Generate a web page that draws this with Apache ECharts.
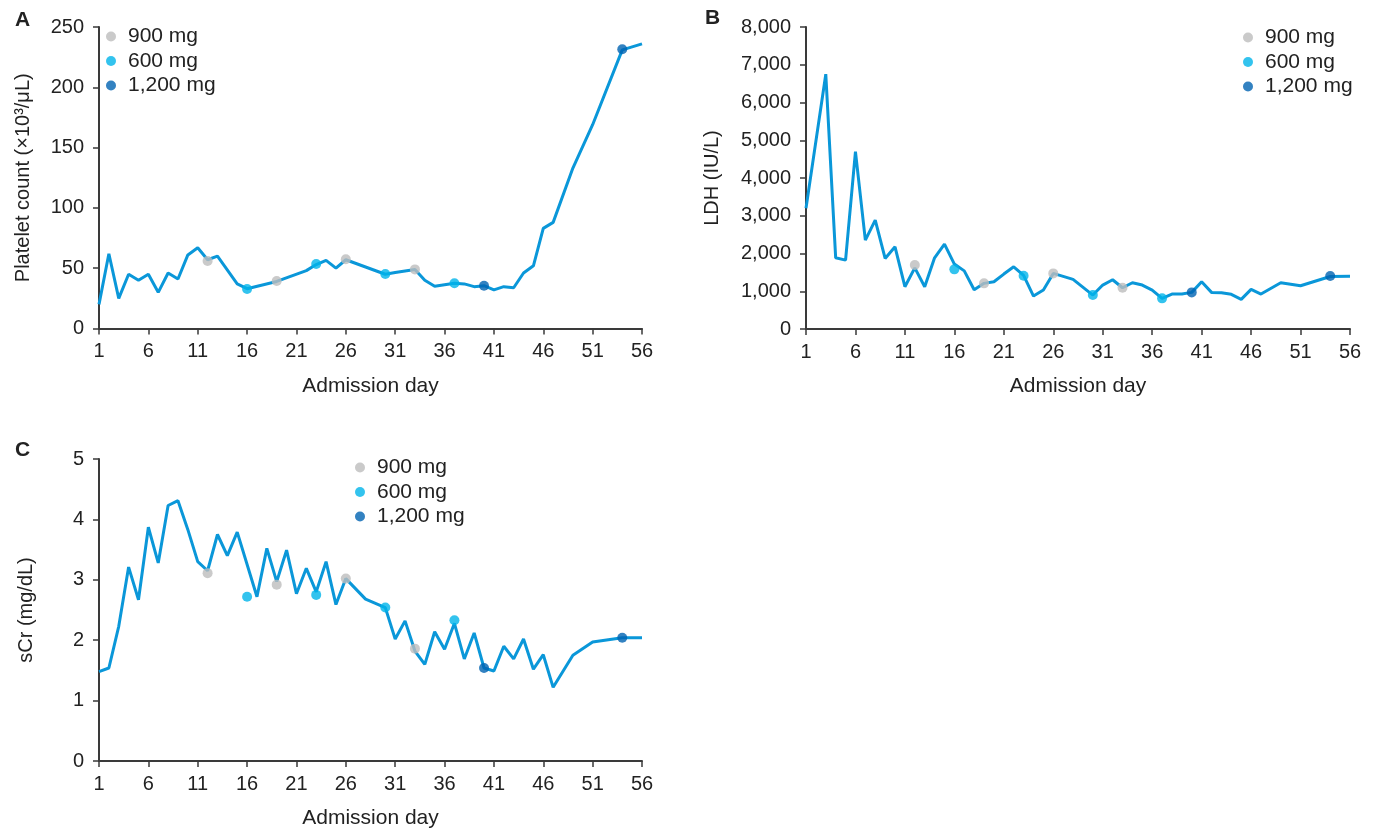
<!DOCTYPE html>
<html lang="en">
<head>
  <meta charset="UTF-8">
  <title>Platelet / LDH / sCr</title>
  <script src="https://cdn.jsdelivr.net/npm/echarts@6/dist/echarts.min.js"></script>
  <style>
    html, body { margin: 0; padding: 0; background: #fff; }
  </style>
</head>
<body>
<div id="main" style="width: 1377px;height:828px;"></div>
<script>
  var myChart = echarts.init(document.getElementById('main'));

  // admission days 1..56
  var days = [];
  for (var d = 1; d <= 56; d++) days.push(String(d));

  // A: platelet count
  var pltDays = [1, 2, 3, 4, 5, 6, 7, 8, 9, 10, 11, 12, 13, 15, 16, 19, 22, 23, 24, 25, 26, 30, 31, 33, 34, 35, 37, 38, 39, 40, 41, 42, 43, 44, 45, 46, 47, 49, 51, 54, 56];
  var pltVals = [20, 62, 25, 45, 40, 45, 30, 46, 41, 61, 67, 57, 60, 37, 33, 39, 48, 53, 56.5, 50, 57, 45, 46.5, 49, 40, 35, 37.5, 37, 34.7, 35.5, 32, 34.7, 33.8, 46, 52, 83, 88, 133, 169, 231, 236];

  // B: LDH
  var ldhDays = [1, 3, 4, 5, 6, 7, 8, 9, 10, 11, 12, 13, 14, 15, 16, 17, 18, 19, 20, 21, 22, 23, 24, 25, 26, 28, 30, 31, 32, 33, 34, 35, 36, 37, 38, 39, 40, 41, 42, 43, 44, 45, 46, 47, 49, 51, 54, 56];
  var ldhVals = [3200, 6750, 1886, 1825, 4700, 2354, 2884, 1870, 2178, 1120, 1620, 1120, 1886, 2250, 1720, 1540, 1040, 1209, 1252, 1455, 1648, 1420, 873, 1032, 1473, 1315, 899, 1164, 1305, 1093, 1225, 1164, 1032, 812, 926, 926, 970, 1252, 970, 960, 918, 786, 1050, 926, 1225, 1146, 1390, 1400];

  // C: serum creatinine
  var scrDays = [1, 2, 3, 4, 5, 6, 7, 8, 9, 10, 11, 12, 13, 14, 15, 17, 18, 19, 20, 21, 22, 23, 24, 25, 26, 28, 30, 31, 32, 33, 34, 35, 36, 37, 38, 39, 40, 41, 42, 43, 44, 45, 46, 47, 49, 51, 54, 56];
  var scrVals = [1.48, 1.54, 2.23, 3.21, 2.67, 3.87, 3.28, 4.23, 4.31, 3.83, 3.30, 3.15, 3.75, 3.40, 3.79, 2.72, 3.52, 2.97, 3.49, 2.77, 3.19, 2.80, 3.30, 2.59, 3.02, 2.68, 2.54, 2.02, 2.32, 1.82, 1.60, 2.14, 1.85, 2.28, 1.69, 2.12, 1.54, 1.49, 1.90, 1.69, 2.02, 1.52, 1.76, 1.22, 1.75, 1.97, 2.04, 2.04];

  // dosing days
  var dose900Days = [12, 19, 26, 33];
  var dose600Days = [16, 23, 30, 37];
  var dose1200Days = [40, 54];

  var plt900 = [56, 39.4, 57.4, 49];
  var plt600 = [32.8, 53.5, 45.2, 37.5];
  var plt1200 = [35.5, 231.5];

  var ldh900 = [1693, 1209, 1473, 1093];
  var ldh600 = [1580, 1410, 899, 812];
  var ldh1200 = [970, 1402];

  var scr900 = [3.11, 2.92, 3.02, 1.86];
  var scr600 = [2.72, 2.75, 2.54, 2.33];
  var scr1200 = [1.54, 2.04];

  var doseNames = ['900 mg', '600 mg', '1,200 mg'];
  var doseColors = ['#bdbdbd', '#00b4ea', '#0063b1'];
  var lineColor = '#0a97d9';
  var axisColor = '#3a3a3a';
  var textColor = '#222';
  var font = 'Liberation Sans';

  function pairs(xs, ys) {
    return xs.map(function (x, i) { return [String(x), ys[i]]; });
  }

  function makeX(idx) {
    return {
      type: 'category',
      gridIndex: idx,
      data: days,
      boundaryGap: false,
      name: 'Admission day',
      nameLocation: 'middle',
      nameGap: 47,
      nameTextStyle: { fontFamily: font, fontSize: 21, color: textColor },
      axisLine: { show: true, lineStyle: { color: axisColor, width: 2 } },
      axisTick: { show: true, interval: 4, length: 6, lineStyle: { color: axisColor, width: 1.5 } },
      axisLabel: { interval: 4, margin: 13, fontFamily: font, fontSize: 20, color: textColor },
      splitLine: { show: false }
    };
  }

  function makeY(idx, name, max, step, gap, fmt) {
    return {
      type: 'value',
      gridIndex: idx,
      min: 0,
      max: max,
      interval: step,
      name: name,
      nameLocation: 'middle',
      nameGap: gap,
      nameTextStyle: { fontFamily: font, fontSize: 20, color: textColor },
      axisLine: { show: true, lineStyle: { color: axisColor, width: 2 } },
      axisTick: { show: true, length: 6, lineStyle: { color: axisColor, width: 1.5 } },
      axisLabel: { margin: 15, fontFamily: font, fontSize: 20, color: textColor, formatter: fmt },
      splitLine: { show: false }
    };
  }

  function makeLegend(left, top) {
    return {
      orient: 'vertical',
      left: left,
      top: top,
      itemWidth: 24,
      itemHeight: 10,
      itemGap: 3.5,
      icon: 'circle',
      data: doseNames,
      selectedMode: false,
      textStyle: { fontFamily: font, fontSize: 21, lineHeight: 20, color: textColor }
    };
  }

  var series = [];
  var panels = [
    { days: pltDays, vals: pltVals, doses: [plt900, plt600, plt1200] },
    { days: ldhDays, vals: ldhVals, doses: [ldh900, ldh600, ldh1200] },
    { days: scrDays, vals: scrVals, doses: [scr900, scr600, scr1200] }
  ];
  var doseDays = [dose900Days, dose600Days, dose1200Days];

  panels.forEach(function (p, i) {
    series.push({
      type: 'line',
      xAxisIndex: i,
      yAxisIndex: i,
      data: pairs(p.days, p.vals),
      showSymbol: false,
      symbol: 'none',
      lineStyle: { color: lineColor, width: 3 },
      z: 2
    });
    for (var k = 0; k < 3; k++) {
      series.push({
        name: doseNames[k],
        type: 'scatter',
        xAxisIndex: i,
        yAxisIndex: i,
        data: pairs(doseDays[k], p.doses[k]),
        symbol: 'circle',
        symbolSize: 10,
        itemStyle: { color: doseColors[k] },
        z: 3
      });
    }
  });

  function thousands(v) {
    return String(v).replace(/\B(?=(\d{3})+(?!\d))/g, ',');
  }

  option = {
    animation: false,
    backgroundColor: '#fff',
    grid: [
      { left: 99, top: 27, width: 543, height: 301.5, containLabel: false, outerBoundsMode: 'none' },
      { left: 806, top: 27, width: 544, height: 302, containLabel: false, outerBoundsMode: 'none' },
      { left: 99, top: 459, width: 543, height: 302, containLabel: false, outerBoundsMode: 'none' }
    ],
    xAxis: [makeX(0), makeX(1), makeX(2)],
    yAxis: [
      makeY(0, 'Platelet count (\u00d710\u00b3/\u03bcL)', 250, 50, 66),
      makeY(1, 'LDH (IU/L)', 8000, 1000, 84, thousands),
      makeY(2, 'sCr (mg/dL)', 5, 1, 63)
    ],
    legend: [makeLegend(101, 21), makeLegend(1238, 22), makeLegend(350, 452)],
    graphic: [
      { type: 'text', left: 15, top: 10, style: { text: 'A', font: 'bold 21px "Liberation Sans"', fill: textColor } },
      { type: 'text', left: 705, top: 8, style: { text: 'B', font: 'bold 21px "Liberation Sans"', fill: textColor } },
      { type: 'text', left: 15, top: 440, style: { text: 'C', font: 'bold 21px "Liberation Sans"', fill: textColor } }
    ],
    series: series
  };

  myChart.setOption(option);
</script>
</body>
</html>
